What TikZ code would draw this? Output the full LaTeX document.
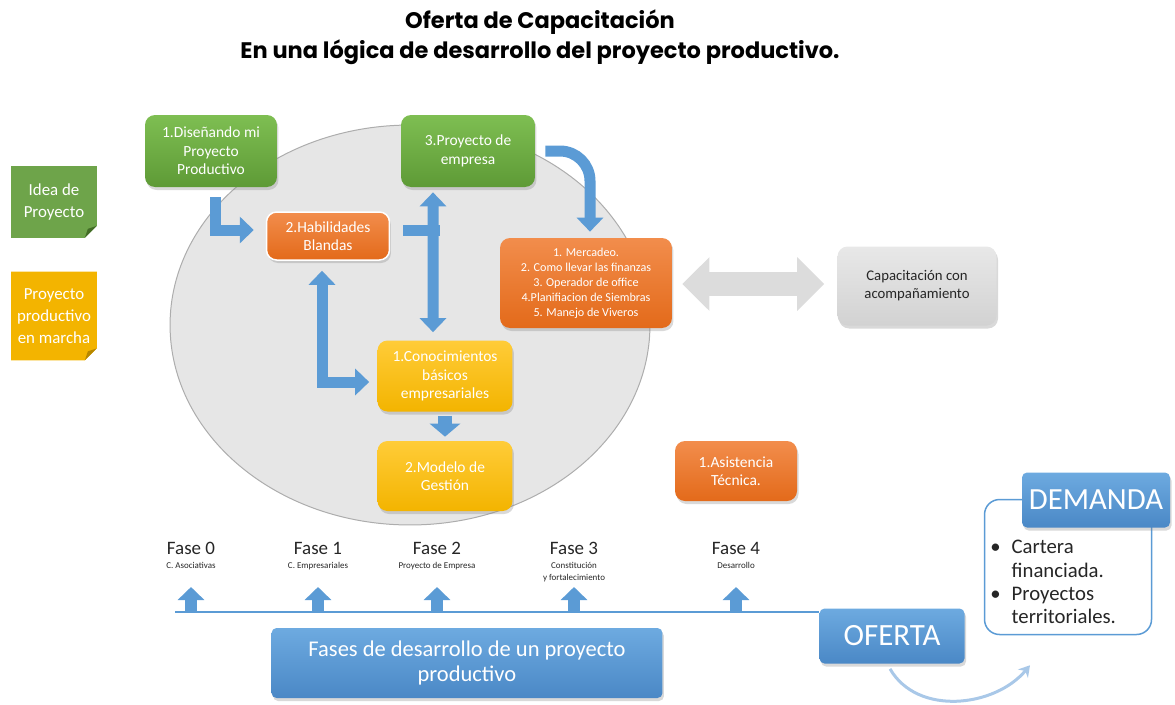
\documentclass[tikz,border=0pt]{standalone}
\usepackage{fontspec}
\setmainfont{Carlito}
\newfontfamily\titlefont{Poppins}
\usetikzlibrary{arrows.meta,shadows,backgrounds}
\definecolor{verdeA}{HTML}{7EBE52}
\definecolor{verdeB}{HTML}{5E9A36}
\definecolor{naranjaA}{HTML}{F28D4C}
\definecolor{naranjaB}{HTML}{E36A1A}
\definecolor{amarilloA}{HTML}{FFCC38}
\definecolor{amarilloB}{HTML}{F3B400}
\definecolor{azulA}{HTML}{6DAAE0}
\definecolor{azulB}{HTML}{4A88C6}
\definecolor{azul}{HTML}{5B9BD5}
\definecolor{azulclaro}{HTML}{A9C8E8}
\definecolor{grisA}{HTML}{E8E8E8}
\definecolor{grisB}{HTML}{D2D2D2}
\definecolor{elipse}{HTML}{E6E6E6}
\definecolor{elipseborde}{HTML}{ADADAD}
\definecolor{flechagris}{HTML}{DCDCDC}
\definecolor{texto}{HTML}{262626}
\begin{document}
\begin{tikzpicture}[x=0.02cm,y=-0.02cm]
\tikzstyle{every node}+=[inner sep=0pt]
\tikzstyle{caja}=[rounded corners=0.2cm, text=white, align=center, font=\fontsize{8.8}{10.5}\selectfont,
  drop shadow={opacity=0.3,shadow xshift=0.03cm,shadow yshift=-0.06cm}]
\tikzstyle{verde}=[caja, top color=verdeA, bottom color=verdeB]
\tikzstyle{naranja}=[caja, top color=naranjaA, bottom color=naranjaB]
\tikzstyle{amarillo}=[caja, top color=amarilloA, bottom color=amarilloB]
\tikzstyle{azulcaja}=[caja, rounded corners=0.1cm, top color=azulA, bottom color=azulB]
\tikzstyle{flecha}=[azul, line width=0.22cm, -{Triangle[width=0.52cm,length=0.28cm]}]
\tikzstyle{dobleflecha}=[azul, line width=0.22cm, {Triangle[width=0.52cm,length=0.28cm]}-{Triangle[width=0.52cm,length=0.28cm]}]
\tikzstyle{flechafase}=[azul, line width=0.24cm, -{Triangle[width=0.52cm,length=0.26cm]}]
\useasboundingbox (0,0) rectangle (1175,704);
% titulo
\node[align=center, font=\titlefont\bfseries\fontsize{12.8}{17}\selectfont] (tit) at (540,37)
  {Oferta de Capacitación\\En una lógica de desarrollo del proyecto productivo.};
% elipse de fondo
\draw[fill=elipse, draw=elipseborde, line width=0.02cm] (410,325) ellipse [x radius=4.8cm, y radius=4cm];
% notas de la izquierda
\node[text=white, align=center, font=\fontsize{9.6}{12.5}\selectfont, minimum width=1.7cm, minimum height=1.42cm] (idea) at (54,202) {Idea de\\Proyecto};
\node[text=white, align=center, font=\fontsize{9.6}{12.5}\selectfont, minimum width=1.7cm, minimum height=1.76cm] (marcha) at (54,316) {Proyecto\\productivo\\en marcha};
\begin{scope}[on background layer]
\fill[verdeB!90] (idea.north west) -- (idea.north east) -- ([yshift=0.24cm]idea.south east) -- ([xshift=-0.24cm]idea.south east) -- (idea.south west) -- cycle;
\fill[verdeB!70!black] ([yshift=0.24cm]idea.south east) -- ([xshift=-0.24cm]idea.south east) -- ([xshift=-0.18cm,yshift=0.18cm]idea.south east) -- cycle;
\fill[amarilloB] (marcha.north west) -- (marcha.north east) -- ([yshift=0.24cm]marcha.south east) -- ([xshift=-0.24cm]marcha.south east) -- (marcha.south west) -- cycle;
\fill[amarilloB!75!black] ([yshift=0.24cm]marcha.south east) -- ([xshift=-0.24cm]marcha.south east) -- ([xshift=-0.18cm,yshift=0.18cm]marcha.south east) -- cycle;
\end{scope}
% cajas del circulo
\node[verde, minimum width=2.64cm, minimum height=1.44cm] (dis) at (211,151) {1.Diseñando mi\\Proyecto\\Productivo};
\node[verde, minimum width=2.68cm, minimum height=1.44cm] (pem) at (468,151) {3.Proyecto de\\empresa};
\node[naranja, draw=white, line width=0.03cm, minimum width=2.46cm, minimum height=0.96cm] (hab) at (328,236) {2.Habilidades\\Blandas};
\node[naranja, font=\fontsize{6.9}{8.5}\selectfont, minimum width=3.44cm, minimum height=1.8cm] (lista) at (586,283)
  {1. Mercadeo.\\2. Como llevar las finanzas\\3. Operador de office\\4.Planifiacion de Siembras\\5. Manejo de Viveros};
\node[caja, top color=grisA, bottom color=grisB, text=texto, font=\fontsize{8.4}{10.2}\selectfont, minimum width=3.18cm, minimum height=1.58cm] (capac) at (917,286) {Capacitación con\\acompañamiento};
\node[amarillo, minimum width=2.7cm, minimum height=1.42cm] (con) at (445,376) {1.Conocimientos\\básicos\\empresariales};
\node[amarillo, minimum width=2.7cm, minimum height=1.4cm] (mod) at (445,476) {2.Modelo de\\Gestión};
\node[naranja, minimum width=2.44cm, minimum height=1.2cm] (asis) at (736,471) {1.Asistencia\\Técnica.};
% flechas
\draw[flecha] ([xshift=0.08cm,yshift=-0.2cm]dis.south) |- ([xshift=-0.24cm,yshift=0.12cm]hab.west);
\draw[azul, line width=0.22cm] ([xshift=0.26cm,yshift=0.12cm]hab.east) -- ++(37,0);
\draw[dobleflecha] ([xshift=-0.7cm,yshift=-0.1cm]pem.south) -- ([xshift=-0.24cm,yshift=0.16cm]con.north);
\draw[flecha, rounded corners=0.6cm] ([xshift=0.2cm]pem.east) -| ([xshift=0.08cm,yshift=0.12cm]lista.north);
\draw[dobleflecha] ([xshift=-0.12cm,yshift=-0.2cm]hab.south) |- ([xshift=-0.16cm,yshift=-0.12cm]con.west);
\draw[azul, line width=0.28cm, -{Triangle[width=0.6cm,length=0.26cm]}] ([yshift=-0.08cm]con.south) -- ([yshift=0.08cm]mod.north);
\draw[flechagris, line width=0.48cm, {Triangle[width=1.04cm,length=0.54cm]}-{Triangle[width=1.04cm,length=0.54cm]}]
  ([xshift=0.2cm]lista.east |- 0,284) -- ([xshift=-0.26cm]capac.west |- 0,284);
% oferta y demanda
\node[azulcaja, font=\fontsize{17.6}{20}\selectfont, minimum width=2.9cm, minimum height=1.1cm] (oferta) at (892,636) {OFERTA};
\node[draw=azul, line width=0.03cm, fill=white, rounded corners=0.3cm, minimum width=3.34cm, minimum height=2.7cm] (dembox) at (1068,567) {};
\node[azulcaja, font=\fontsize{17.5}{20}\selectfont, minimum width=2.96cm, minimum height=1.1cm] (demanda) at (1096,500) {DEMANDA};
\node[anchor=north west, text=texto, font=\fontsize{11.8}{13.3}\selectfont, align=left] (demlist) at (990,537)
  {\begin{tabular}{@{}l@{\hspace{0.22cm}}l@{}}\textbullet & Cartera\\ & financiada.\\ \textbullet & Proyectos\\ & territoriales.\end{tabular}};
\draw[azulclaro, line width=0.06cm, -{Stealth[length=0.22cm,width=0.26cm]}] ([xshift=-0.04cm,yshift=-0.1cm]oferta.south)
  to[out=-60,in=-130] ([xshift=-0.76cm,yshift=-0.6cm]dembox.south);
% fases
\node[azulcaja, font=\fontsize{12.8}{14.7}\selectfont, minimum width=7.82cm, minimum height=1.4cm] (fases) at (467,663) {Fases de desarrollo de un proyecto\\productivo};
\coordinate (t0) at (190,612);
\draw[azul, line width=0.04cm] ([xshift=-0.3cm]t0) -- (oferta.west |- t0);
\foreach \i/\x/\s in {0/191/C. Asociativas, 1/318/C. Empresariales, 2/437/Proyecto de Empresa, 3/574/{Constitución\\y fortalecimiento}, 4/736/Desarrollo}{
  \node[text=texto, font=\fontsize{10.8}{12}\selectfont] (f\i) at (\x,548) {Fase \i};
  \node[anchor=north, text=texto, align=center, font=\fontsize{5.1}{7}\selectfont] (s\i) at (\x,562) {\s};
  \coordinate (t\i) at (\x,612);
  \draw[flechafase] (t\i) -- ++(0,-25);
}
\end{tikzpicture}
\end{document}
